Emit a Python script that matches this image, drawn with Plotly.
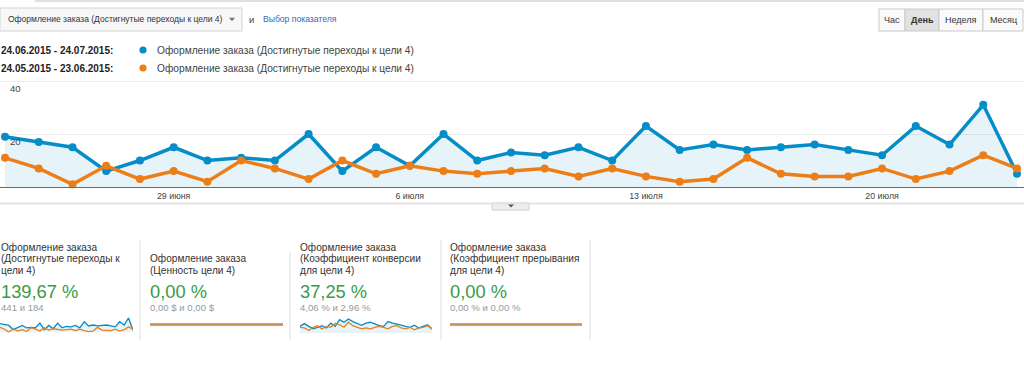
import plotly.graph_objects as go

# ---------------- data ----------------
days_idx = list(range(31))  # 24.06.2015 ... 24.07.2015
goal_current = [19, 17, 15, 6, 10, 15, 10, 11, 10, 20, 6, 15, 8, 20, 10, 13,
                12, 15, 10, 23, 14, 16, 14, 15, 16, 14, 12, 23, 16, 31, 5]
goal_previous = [11, 7, 1, 8, 3, 6, 2, 10, 7, 3, 10, 5, 8, 6, 5, 6,
                 7, 4, 7, 4, 2, 3, 11, 5, 4, 4, 7, 3, 6, 12, 7]
tick_days = [5, 12, 19, 26]
tick_labels = ["29 июня", "6 июля", "13 июля", "20 июля"]
y_ticks = [20, 40]

value_current = [0] * 31
value_previous = [0] * 31
conv_current = [2.9, 4.1, 2.9, 1.8, 2.5, 3.2, 2.2, 4.3, 2.9, 5.8, 4.7, 6.1, 5.0, 4.3, 3.4, 4.3,
                4.7, 4.0, 3.2, 2.9, 5.0, 4.3, 4.0, 3.4, 2.9, 2.5, 3.4, 2.2, 2.9, 3.6, 1.8]
conv_previous = [2.5, 2.2, 1.1, 2.5, 3.2, 1.8, 2.9, 2.5, 4.3, 3.6, 2.5, 4.7, 3.2, 2.5, 1.8, 2.2,
                 1.8, 2.5, 2.9, 2.5, 1.8, 2.9, 3.2, 2.2, 1.8, 2.5, 1.4, 2.2, 2.5, 3.2, 1.8]
abandon_current = [0] * 31
abandon_previous = [0] * 31

range_current = "24.06.2015 - 24.07.2015:"
range_previous = "24.05.2015 - 23.06.2015:"
metric_name = "Оформление заказа (Достигнутые переходы к цели 4)"

# ---------------- style ----------------
W, H = 1024, 365
BLUE = "#058dc7"
ORANGE = "#ed7e17"
FONT = "Liberation Sans, Arial, sans-serif"
TXT = "#333333"


def px(x):
    return x / W


def py(y):
    return 1 - y / H


fig = go.Figure()

# main chart
fig.add_trace(go.Scatter(x=days_idx, y=goal_current, mode="lines+markers",
                         line=dict(color=BLUE, width=3.5), marker=dict(size=8, color=BLUE),
                         fill="tozeroy", fillcolor="rgba(5,141,199,0.10)",
                         xaxis="x", yaxis="y", showlegend=False, cliponaxis=False))
fig.add_trace(go.Scatter(x=days_idx, y=goal_previous, mode="lines+markers",
                         line=dict(color=ORANGE, width=3.5), marker=dict(size=8, color=ORANGE),
                         xaxis="x", yaxis="y", showlegend=False, cliponaxis=False))

# sparklines
fig.add_trace(go.Scatter(x=days_idx, y=goal_current, mode="lines", line=dict(color=BLUE, width=1.3),
                         fill="tozeroy", fillcolor="rgba(5,141,199,0.10)",
                         xaxis="x2", yaxis="y2", showlegend=False))
fig.add_trace(go.Scatter(x=days_idx, y=goal_previous, mode="lines", line=dict(color=ORANGE, width=1.3),
                         xaxis="x2", yaxis="y2", showlegend=False))
fig.add_trace(go.Scatter(x=days_idx, y=value_current, mode="lines", line=dict(color=BLUE, width=2),
                         xaxis="x3", yaxis="y3", showlegend=False))
fig.add_trace(go.Scatter(x=days_idx, y=value_previous, mode="lines", line=dict(color="#c8955c", width=2),
                         xaxis="x3", yaxis="y3", showlegend=False))
fig.add_trace(go.Scatter(x=days_idx, y=conv_current, mode="lines", line=dict(color=BLUE, width=1.3),
                         fill="tozeroy", fillcolor="rgba(5,141,199,0.10)",
                         xaxis="x4", yaxis="y4", showlegend=False))
fig.add_trace(go.Scatter(x=days_idx, y=conv_previous, mode="lines", line=dict(color=ORANGE, width=1.3),
                         xaxis="x4", yaxis="y4", showlegend=False))
fig.add_trace(go.Scatter(x=days_idx, y=abandon_current, mode="lines", line=dict(color=BLUE, width=2),
                         xaxis="x5", yaxis="y5", showlegend=False))
fig.add_trace(go.Scatter(x=days_idx, y=abandon_previous, mode="lines", line=dict(color="#c8955c", width=2),
                         xaxis="x5", yaxis="y5", showlegend=False))

# main axes: day 0 at 5px, day 30 at 1017px
span = 30 * W / (1017 - 5)
x0 = -5 * span / W
ppu = (187 - 81) / 40.0
ytop = 40.5
main_top = 187 - ytop * ppu

hidden = dict(visible=False, fixedrange=True)

fig.update_layout(
    width=W, height=H, autosize=False,
    margin=dict(l=0, r=0, t=0, b=0),
    paper_bgcolor="white", plot_bgcolor="rgba(0,0,0,0)",
    font=dict(family=FONT, color=TXT, size=10),
    hovermode=False,
    xaxis=dict(domain=[0, 1], range=[x0, x0 + span], tickvals=tick_days, ticktext=tick_labels,
               showgrid=False, zeroline=False, showline=True, linecolor="#6b6b6b", linewidth=1,
               ticks="", tickfont=dict(size=8.8, color="#444"), fixedrange=True),
    yaxis=dict(domain=[py(187), py(main_top)], range=[0, ytop], tickvals=y_ticks,
               showticklabels=False, showgrid=True, gridcolor="#ececec", gridwidth=1,
               zeroline=False, fixedrange=True),
    xaxis2=dict(domain=[px(0), px(133)], range=[0, 30], anchor="y2", **hidden),
    yaxis2=dict(domain=[py(332.5), py(317.5)], range=[0, 32], anchor="x2", **hidden),
    xaxis3=dict(domain=[px(150), px(283)], range=[0, 30], anchor="y3", **hidden),
    yaxis3=dict(domain=[py(329.5), py(319.5)], range=[-1, 1], anchor="x3", **hidden),
    xaxis4=dict(domain=[px(300), px(432)], range=[0, 30], anchor="y4", **hidden),
    yaxis4=dict(domain=[py(333), py(317)], range=[0, 7], anchor="x4", **hidden),
    xaxis5=dict(domain=[px(450), px(582)], range=[0, 30], anchor="y5", **hidden),
    yaxis5=dict(domain=[py(329.5), py(319.5)], range=[-1, 1], anchor="x5", **hidden),
)

shapes = []
ann = []


def text(x, y, s, size=10, color=TXT, anchor="left", bold=False):
    if bold:
        s = "<b>" + s + "</b>"
    ann.append(dict(x=px(x), y=py(y), xref="paper", yref="paper", text=s, showarrow=False,
                    xanchor=anchor, yanchor="middle", font=dict(size=size, color=color, family=FONT),
                    borderpad=0))


def rect(x0_, y0_, x1_, y1_, fill, line="#cccccc", lw=1):
    shapes.append(dict(type="rect", xref="paper", yref="paper", x0=px(x0_), x1=px(x1_),
                       y0=py(y1_), y1=py(y0_), fillcolor=fill, line=dict(color=line, width=lw),
                       layer="below"))


def hline(x0_, x1_, y, color, w=1):
    shapes.append(dict(type="line", xref="paper", yref="paper", x0=px(x0_), x1=px(x1_),
                       y0=py(y), y1=py(y), line=dict(color=color, width=w)))


def vline(x, y0_, y1_, color, w=1):
    shapes.append(dict(type="line", xref="paper", yref="paper", x0=px(x), x1=px(x),
                       y0=py(y0_), y1=py(y1_), line=dict(color=color, width=w)))


def tri(cx, cy, w, h, color):
    path = "M {} {} L {} {} L {} {} Z".format(px(cx - w / 2), py(cy - h / 2), px(cx + w / 2),
                                             py(cy - h / 2), px(cx), py(cy + h / 2))
    shapes.append(dict(type="path", xref="paper", yref="paper", path=path, fillcolor=color,
                       line=dict(width=0)))


def dot(cx, cy, r, color):
    shapes.append(dict(type="circle", xref="paper", yref="paper", x0=px(cx - r), x1=px(cx + r),
                       y0=py(cy + r), y1=py(cy - r), fillcolor=color, line=dict(width=0)))


# top separator
hline(35, 1024, 1, "#d5d5d5", 1.5)

# dropdown
rect(0, 8, 242, 31, "#f7f7f7", "#d3d3d3")
text(7, 19.5, metric_name, size=8.5)
tri(232, 19.5, 6, 3.5, "#777")
text(248, 19, "и", size=9.5, color="#444")
text(262, 19.5, "Выбор показателя", size=8.6, color="#2d6eb8")

# period buttons
btns = [("Час", 879, 905, False), ("День", 905, 939, True), ("Неделя", 939, 983, False),
        ("Месяц", 983, 1023, False)]
for label, a, b, sel in btns:
    rect(a, 9, b, 31, "#e2e2e2" if sel else "#fafafa", "#c9c9c9")
    text((a + b) / 2, 20, label, size=9, color="#333", anchor="center", bold=sel)

# legend rows
text(0, 50, range_current, size=10, color="#222", bold=True)
dot(143, 50, 3.6, BLUE)
text(156, 50, metric_name, size=10.2, color="#444")
text(0, 68, range_previous, size=10, color="#222", bold=True)
dot(143, 68, 3.6, ORANGE)
text(156, 68, metric_name, size=10.2, color="#444")

# y labels inside the plot, just below gridlines
for v in y_ticks:
    ann.append(dict(x=px(8), y=v, xref="paper", yref="y", text=str(v), showarrow=False,
                    xanchor="left", yanchor="top", yshift=0,
                    font=dict(size=9.5, color="#444", family=FONT)))

# lower separator with tab
hline(0, 1024, 203.5, "#e3e3e3", 2)
rect(492, 203, 529, 210, "#eeeeee", "#cfcfcf")
tri(511, 206, 6, 3, "#555")

# scorecards
total_cur = sum(goal_current)
total_prev = sum(goal_previous)
change = (total_cur - total_prev) / total_prev * 100
change_txt = "{:.2f} %".format(change).replace(".", ",")

cards = [
    (0, ["Оформление заказа", "(Достигнутые переходы к", "цели 4)"], change_txt,
     "{} и {}".format(total_cur, total_prev)),
    (149, ["Оформление заказа", "(Ценность цели 4)"], "0,00 %", "0,00 $ и 0,00 $"),
    (299, ["Оформление заказа", "(Коэффициент конверсии", "для цели 4)"], "37,25 %", "4,06 % и 2,96 %"),
    (449, ["Оформление заказа", "(Коэффициент прерывания", "для цели 4)"], "0,00 %", "0,00 % и 0,00 %"),
]
for x, lines, big, sub in cards:
    base = 270.5
    for i, ln in enumerate(reversed(lines)):
        text(x, base - i * 11.7, ln, size=10.1, color="#333")
    text(x, 291, big, size=18.3, color="#3a9b46")
    text(x, 307.5, sub, size=9.6, color="#999")

vline(140, 240, 340, "#dedede")
vline(290, 252, 340, "#dedede")
vline(441, 240, 340, "#dedede")
vline(590, 240, 340, "#dedede")

fig.update_layout(shapes=shapes, annotations=ann)
fig.write_html("out.html", config={"displayModeBar": False, "staticPlot": True},
               post_script="document.body.style.margin='0';")
